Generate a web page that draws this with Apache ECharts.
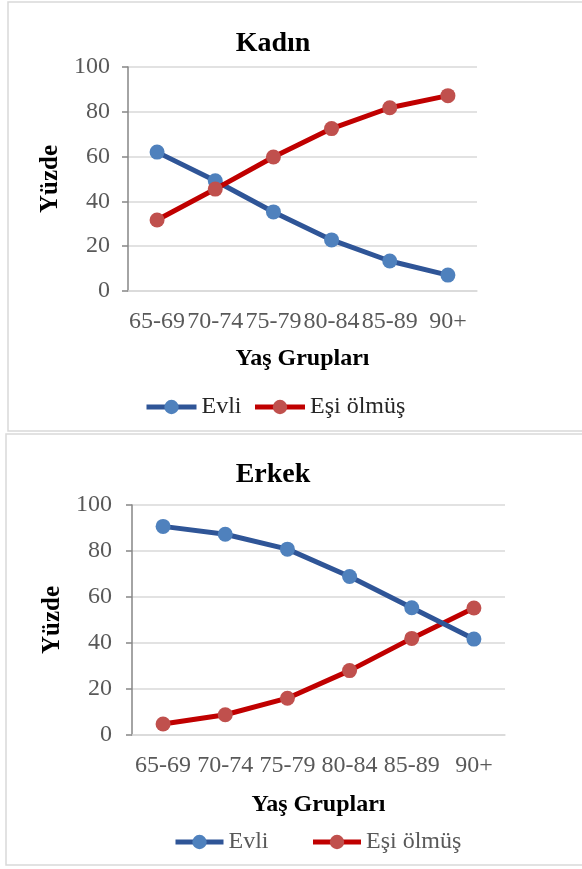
<!DOCTYPE html>
<html><head><meta charset="utf-8">
<script src="https://cdn.jsdelivr.net/npm/echarts@6/dist/echarts.min.js"></script>
<style>html,body{margin:0;padding:0;background:#fff}#c{width:582px;height:869px}</style>
</head><body><div id="c"></div>
<script>
const categories = ['65-69','70-74','75-79','80-84','85-89','90+'];
const kadinEvli = [62, 49.2, 35.3, 22.8, 13.4, 7.1];
const kadinEsiOlmus = [31.7, 45.5, 59.8, 72.5, 81.8, 87.2];
const erkekEvli = [90.7, 87.3, 80.8, 68.9, 55.3, 41.7];
const erkekEsiOlmus = [4.8, 8.8, 16.0, 28.0, 42.0, 55.2];
const yTicks = [0, 20, 40, 60, 80, 100];
const titles = ['Kadın', 'Erkek'];
const seriesNames = ['Evli', 'Eşi ölmüş'];

const FONT = '"Liberation Serif","Times New Roman",serif';
const grey = '#595959';
const chart = echarts.init(document.getElementById('c'));

function xAx(gi, gap) {
  return {
    type: 'category', gridIndex: gi, data: categories, boundaryGap: true,
    axisLine: {lineStyle: {color: '#d9d9d9', width: 1.5}},
    axisTick: {show: false},
    axisLabel: {interval: 0, color: grey, fontFamily: FONT, fontSize: 24, margin: 19},
    name: 'Yaş Grupları', nameLocation: 'middle', nameGap: gap,
    nameTextStyle: {fontFamily: FONT, fontSize: 24, fontWeight: 'bold', color: '#000'}
  };
}
function yAx(gi, margin) {
  return {
    type: 'value', gridIndex: gi, min: yTicks[0], max: yTicks[yTicks.length-1], interval: 20,
    axisLine: {show: true, lineStyle: {color: '#868686', width: 1.5}},
    axisTick: {show: true, length: 6, lineStyle: {color: '#868686', width: 1.5}},
    splitLine: {lineStyle: {color: '#d9d9d9', width: 1.5}},
    axisLabel: {color: grey, fontFamily: FONT, fontSize: 24, margin: margin},
    name: 'Yüzde', nameLocation: 'middle', nameGap: 59,
    nameTextStyle: {fontFamily: FONT, fontSize: 25, fontWeight: 'bold', color: '#000'}
  };
}
function ser(name, data, gi, line, mark, z) {
  return {
    name: name, type: 'line', xAxisIndex: gi, yAxisIndex: gi, data: data,
    symbol: 'circle', symbolSize: 15, z: z,
    lineStyle: {color: line, width: 5}, itemStyle: {color: mark},
    emphasis: {disabled: true}, animation: false
  };
}
const blueLine = '#2F5597', blueMark = '#4F81BD', redLine = '#C00000', redMark = '#C0504D';

chart.setOption({
  animation: false,
  graphic: [
    {type: 'rect', shape: {x: 8, y: 2, width: 600, height: 429}, style: {fill: 'none', stroke: '#d9d9d9', lineWidth: 1.5}, silent: true},
    {type: 'rect', shape: {x: 6, y: 434, width: 600, height: 431}, style: {fill: 'none', stroke: '#d9d9d9', lineWidth: 1.5}, silent: true}
  ],
  title: [
    {text: titles[0], left: 268, top: 25, textAlign: 'center', textStyle: {fontFamily: FONT, fontSize: 28, fontWeight: 'bold', color: '#000'}},
    {text: titles[1], left: 268, top: 456, textAlign: 'center', textStyle: {fontFamily: FONT, fontSize: 28, fontWeight: 'bold', color: '#000'}}
  ],
  legend: [
    {data: seriesNames, left: 139, top: 390, itemWidth: 50, itemHeight: 18, itemGap: 11,
     lineStyle: {width: 5}, textStyle: {fontFamily: FONT, fontSize: 24, color: '#262626'}},
    {data: seriesNames, left: 168, top: 825, itemWidth: 48, itemHeight: 18, itemGap: 42,
     lineStyle: {width: 5}, textStyle: {fontFamily: FONT, fontSize: 24, color: '#595959'}}
  ],
  grid: [
    {left: 128, top: 67, width: 349, height: 224},
    {left: 132, top: 505, width: 373, height: 230}
  ],
  xAxis: [xAx(0, 56), xAx(1, 58)],
  yAxis: [yAx(0, 18), yAx(1, 20)],
  series: [
    ser(seriesNames[0], kadinEvli, 0, blueLine, blueMark, 2),
    ser(seriesNames[1], kadinEsiOlmus, 0, redLine, redMark, 3),
    ser(seriesNames[0], erkekEvli, 1, blueLine, blueMark, 3),
    ser(seriesNames[1], erkekEsiOlmus, 1, redLine, redMark, 2)
  ]
});
</script></body></html>
